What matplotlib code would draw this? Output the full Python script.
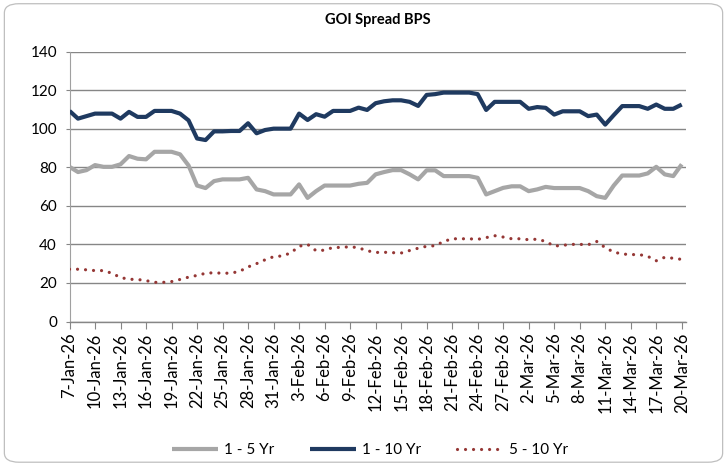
import matplotlib
matplotlib.use("Agg")
import matplotlib.pyplot as plt
import matplotlib.dates as mdates
from matplotlib.patches import FancyBboxPatch
import pandas as pd

plt.rcParams['font.family'] = ['Lato', 'DejaVu Sans']

dates = pd.date_range('2026-01-07', '2026-03-20', freq='D')

spread_1_5 = [80.2, 77.5, 78.5, 81.1, 80.2, 80.2, 81.5, 85.8, 84.4, 84.1,
              88.0, 88.0, 88.0, 86.7, 80.9, 70.5, 69.2, 72.8, 73.7, 73.7,
              73.7, 74.5, 68.5, 67.6, 65.9, 65.9, 65.9, 71.1, 64.1, 67.6,
              70.5, 70.5, 70.5, 70.5, 71.4, 71.9, 76.3, 77.5, 78.5, 78.5,
              76.3, 73.7, 78.4, 78.4, 75.4, 75.4, 75.4, 75.4, 74.5, 65.9,
              67.6, 69.3, 70.1, 70.1, 67.6, 68.5, 69.8, 69.2, 69.2, 69.2,
              69.2, 67.6, 65.0, 64.1, 70.5, 75.7, 75.7, 75.7, 76.8, 80.2,
              76.3, 75.4, 81.5]

spread_1_10 = [109.2, 105.2, 106.5, 107.8, 107.8, 107.8, 105.2, 108.7, 106.1, 106.1,
               109.2, 109.2, 109.2, 107.8, 104.3, 94.9, 94.1, 98.6, 98.6, 98.8,
               98.8, 102.8, 97.6, 99.3, 100.0, 100.0, 100.0, 107.8, 104.5, 107.5,
               106.2, 109.2, 109.2, 109.2, 110.9, 109.7, 113.2, 114.2, 114.7, 114.7,
               113.9, 111.8, 117.5, 117.9, 118.7, 118.7, 118.7, 118.7, 117.9, 109.7,
               113.9, 113.9, 113.9, 113.9, 110.3, 111.2, 110.8, 107.3, 109.0, 109.0,
               109.0, 106.5, 107.3, 102.1, 107.0, 111.7, 111.7, 111.7, 110.3, 112.5,
               110.3, 110.3, 112.5]

spread_5_10 = [27.1, 27.1, 26.8, 26.4, 26.4, 25.0, 22.8, 21.9, 21.8, 21.2,
               20.3, 20.3, 20.7, 21.8, 23.0, 23.9, 25.0, 25.3, 25.0, 25.1,
               26.0, 28.3, 30.0, 32.0, 33.6, 34.0, 35.5, 39.0, 40.0, 36.7,
               37.0, 38.4, 38.4, 38.8, 38.2, 36.7, 35.8, 35.9, 35.7, 35.5,
               36.8, 38.0, 39.0, 39.3, 41.5, 42.9, 42.9, 42.9, 42.6, 43.5,
               44.5, 43.8, 42.9, 42.9, 42.4, 42.7, 41.5, 39.1, 39.5, 40.0,
               40.0, 39.8, 41.5, 38.3, 36.0, 35.0, 34.7, 34.7, 33.8, 31.5,
               33.3, 32.8, 32.2]

series_names = ['1 - 5 Yr', '1 - 10 Yr', '5 - 10 Yr']
title = 'GOI Spread BPS'
y_ticks = [0, 20, 40, 60, 80, 100, 120, 140]

fig = plt.figure(figsize=(7.27, 4.65), dpi=100)
border = FancyBboxPatch((0.006, 0.006), 0.988, 0.986,
                        boxstyle="round,pad=0,rounding_size=0.02",
                        transform=fig.transFigure, facecolor='white',
                        edgecolor='#BFBFBF', linewidth=0.9, zorder=-10)
fig.patches.append(border)

ax = fig.add_axes([0.0956, 0.3086, 0.848, 0.5806])
ax.set_facecolor('none')

gray = '#A6A6A6'
navy = '#1F3A60'
red = '#953735'

ax.plot(dates, spread_1_5, color=gray, lw=3.0, solid_joinstyle='round',
        solid_capstyle='butt', label=series_names[0], zorder=3)
ax.plot(dates, spread_1_10, color=navy, lw=3.0, solid_joinstyle='round',
        solid_capstyle='butt', label=series_names[1], zorder=3)
ax.plot(dates, spread_5_10, color=red, lw=2.3, linestyle=(0, (0.01, 2.5)),
        dash_capstyle='round', label=series_names[2], zorder=3)

ax.set_ylim(0, 140)
ax.set_yticks(y_ticks)
ax.set_xlim(dates[0], dates[-1] + pd.Timedelta(hours=12))
ax.set_xticks(dates[::3])
ax.set_xticklabels([f"{d.day}-{d.strftime('%b-%y')}" for d in dates[::3]],
                   rotation=90, fontsize=12, color='#000000')
ax.tick_params(axis='y', labelsize=11, length=3, color='#868686', pad=6)
ax.tick_params(axis='x', length=5, color='#868686', pad=3)

ax.yaxis.grid(True, color='#868686', linewidth=1.0)
ax.set_axisbelow(True)
for s in ['top', 'right']:
    ax.spines[s].set_visible(False)
ax.spines['left'].set_color('#A0A0A0')
ax.spines['left'].set_linewidth(0.8)
ax.spines['bottom'].set_color('#868686')
ax.spines['bottom'].set_linewidth(1.0)

fig.text(0.52, 0.958, title, ha='center', va='center', fontsize=10.5,
         fontweight='bold')

fig.legend(loc='center', bbox_to_anchor=(0.509, 0.032), ncol=3, frameon=False,
           fontsize=11, handlelength=3.0, handletextpad=0.35,
           columnspacing=2.4)

fig.savefig('out.png', dpi=100)
